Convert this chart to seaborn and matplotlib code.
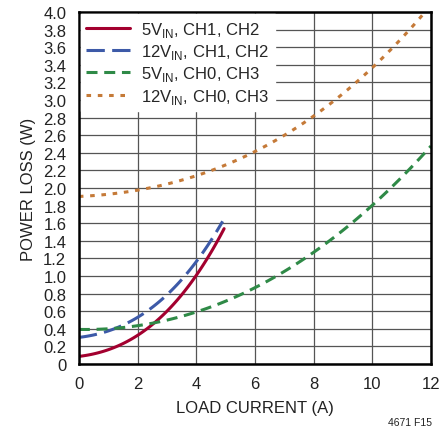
import numpy as np
import pandas as pd
import matplotlib
matplotlib.use('Agg')
import matplotlib.pyplot as plt
import seaborn as sns

# data
x_5v_ch12 = [0, 0.5, 1, 1.5, 2, 2.5, 3, 3.5, 4, 4.5, 4.95]
y_5v_ch12 = [0.09, 0.11, 0.16, 0.23, 0.32, 0.45, 0.61, 0.79, 1.0, 1.25, 1.55]

x_12v_ch12 = [0, 0.5, 1, 1.5, 2, 2.5, 3, 3.5, 4, 4.5, 4.9]
y_12v_ch12 = [0.30, 0.33, 0.38, 0.44, 0.53, 0.64, 0.78, 0.96, 1.17, 1.40, 1.62]

x_5v_ch03 = [0, 1, 2, 3, 4, 5, 6, 7, 8, 9, 10, 11, 12]
y_5v_ch03 = [0.39, 0.40, 0.44, 0.50, 0.59, 0.71, 0.87, 1.05, 1.26, 1.52, 1.81, 2.13, 2.47]

x_12v_ch03 = [0, 1, 2, 3, 4, 5, 6, 7, 8, 9, 10, 11, 11.7]
y_12v_ch03 = [1.90, 1.93, 1.98, 2.05, 2.14, 2.26, 2.40, 2.60, 2.82, 3.08, 3.37, 3.70, 3.96]

labels = [r'5V$_{\mathregular{IN}}$, CH1, CH2',
          r'12V$_{\mathregular{IN}}$, CH1, CH2',
          r'5V$_{\mathregular{IN}}$, CH0, CH3',
          r'12V$_{\mathregular{IN}}$, CH0, CH3']
colors = ['#a3002f', '#3d5aa8', '#2f8a47', '#c57a38']
dashes = [(None, None), (6, 2.4), (3.6, 2.2), (1.5, 2.2)]

sns.set_style('white')
plt.rcParams['font.family'] = ['Liberation Sans', 'DejaVu Sans']
plt.rcParams['mathtext.fontset'] = 'custom'
plt.rcParams['mathtext.rm'] = 'Liberation Sans'

fig = plt.figure(figsize=(4.48, 4.35), dpi=100)
ax = fig.add_axes([0.176, 0.161, 0.786, 0.809])

series = [(x_5v_ch12, y_5v_ch12), (x_12v_ch12, y_12v_ch12),
          (x_5v_ch03, y_5v_ch03), (x_12v_ch03, y_12v_ch03)]
for (xs, ys), lab, col, ds in zip(series, labels, colors, dashes):
    # smooth the read points with a cubic fit for a clean curve
    xs = np.array(xs); ys = np.array(ys)
    coef = np.polyfit(xs, ys, 3)
    xf = np.linspace(xs.min(), xs.max(), 120)
    df = pd.DataFrame({'x': xf, 'y': np.polyval(coef, xf)})
    sns.lineplot(data=df, x='x', y='y', ax=ax, color=col, lw=2.2, label=lab)
    ln = ax.get_lines()[-1]
    if ds[0] is not None:
        ln.set_dashes(ds)

ax.set_xlim(0, 12)
ax.set_ylim(0, 4.0)
ax.set_xticks(np.arange(0, 13, 2))
yt = np.round(np.arange(0, 4.01, 0.2), 1)
ax.set_yticks(yt)
ax.set_yticklabels(['0'] + [f'{v:.1f}' for v in yt[1:]])
ax.tick_params(length=0, labelsize=12, colors='#222222')
ax.tick_params(axis='x', pad=9)
ax.tick_params(axis='y', pad=9)
ax.grid(True, color='#555555', lw=0.9)
for s in ax.spines.values():
    s.set_color('black')
    s.set_linewidth(1.8)

ax.set_xlabel('LOAD CURRENT (A)', fontsize=12, color='#222222', labelpad=6)
ax.set_ylabel('POWER LOSS (W)', fontsize=12, color='#222222', labelpad=5)

leg = ax.legend(loc='upper left', fontsize=12, frameon=True, fancybox=False,
                handlelength=2.6, handletextpad=0.7, borderaxespad=0.1,
                labelspacing=0.2, borderpad=0.35)
leg.get_frame().set_edgecolor('white')
leg.get_frame().set_facecolor('white')
leg.get_frame().set_alpha(1)

fig.text(0.965, 0.015, '4671 F15', fontsize=7.5, ha='right', va='bottom', color='#222222')

plt.savefig('out.png', dpi=100)
